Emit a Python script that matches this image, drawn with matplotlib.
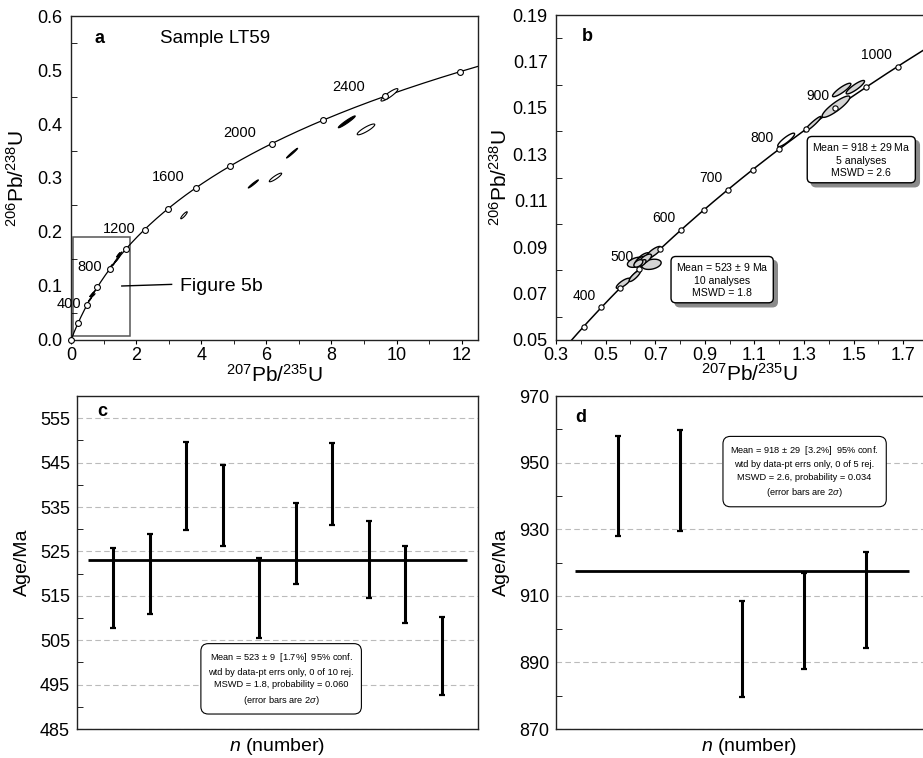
import numpy as np
import matplotlib
matplotlib.use("Agg")
import matplotlib.pyplot as plt
from matplotlib.patches import Rectangle, FancyBboxPatch
from matplotlib.transforms import IdentityTransform

plt.rcParams['font.family'] = ['Liberation Sans', 'DejaVu Sans']
plt.rcParams['mathtext.fontset'] = 'custom'
plt.rcParams['mathtext.rm'] = 'Liberation Sans'
plt.rcParams['mathtext.it'] = 'Liberation Sans:italic'

# =====================================================
# DADOS
# =====================================================
# constantes de decaimento (1/ano) para a concordia
L238 = 1.55125e-10
L235 = 9.8485e-10

# idades marcadas na concordia (Ma)
a_marcas = [0, 200, 400, 600, 800, 1000, 1200, 1400, 1600, 1800, 2000, 2200, 2400, 2600]
a_rotulos = [400, 800, 1200, 1600, 2000, 2400]
b_marcas = [350, 400, 450, 500, 550, 600, 650, 700, 750, 800, 850, 900, 950, 1000, 1050]
b_rotulos = [400, 500, 600, 700, 800, 900, 1000]

# elipses discordantes do painel a: x, y, meia-largura x, meia-altura y, rho, preenchida
a_elx = [3.47, 5.60, 6.28, 6.79, 8.47, 9.06, 9.78]
a_ely = [0.231, 0.289, 0.301, 0.346, 0.404, 0.390, 0.454]
a_elsx = [0.10, 0.155, 0.19, 0.17, 0.26, 0.27, 0.26]
a_elsy = [0.0065, 0.0075, 0.008, 0.009, 0.011, 0.010, 0.0115]
a_elrho = [0.90, 0.97, 0.90, 0.98, 0.96, 0.88, 0.90]
a_elcheia = [False, True, False, True, True, False, False]

# elipses concordantes (painel b), grupo ~523 Ma
b1_x = [0.571, 0.618, 0.685, 0.625, 0.655, 0.694, 0.640, 0.660, 0.648, 0.632]
b1_y = [0.0744, 0.0776, 0.0826, 0.0835, 0.0852, 0.0878, 0.0840, 0.0848, 0.0832, 0.0830]
b1_sx = [0.028, 0.023, 0.039, 0.037, 0.028, 0.030, 0.022, 0.025, 0.015, 0.018]
b1_sy = [0.0022, 0.0024, 0.0022, 0.0022, 0.0024, 0.0025, 0.0020, 0.0022, 0.0014, 0.0016]
b1_rho = [0.80, 0.85, 0.30, 0.40, 0.60, 0.80, 0.60, 0.70, 0.60, 0.50]
# grupo ~918 Ma
b2_x = [1.228, 1.335, 1.429, 1.452, 1.507]
b2_y = [0.1362, 0.1430, 0.1505, 0.1577, 0.1589]
b2_sx = [0.034, 0.034, 0.056, 0.037, 0.037]
b2_sy = [0.0029, 0.0033, 0.0046, 0.0029, 0.0029]
b2_rho = [0.88, 0.95, 0.88, 0.88, 0.88]
b2_cor = ['white', '#d4d4d4', '#d4d4d4', '#d4d4d4', '#d4d4d4']

# idades 206Pb/238U e erros 2 sigma (Ma)
c_idade = [516.7, 520.0, 539.8, 535.3, 514.6, 526.7, 540.2, 523.2, 517.6, 501.5]
c_erro = [9.0, 9.0, 9.9, 9.1, 9.0, 9.1, 9.2, 8.7, 8.7, 8.8]
c_media = 523
d_idade = [943.0, 944.7, 894.0, 902.4, 908.8]
d_erro = [15.0, 15.2, 14.5, 14.5, 14.5]
d_media = 917.5

c_texto = ("Mean = 523 $\\pm$ 9  [1.7%]  95% conf.\n"
           "wtd by data-pt errs only, 0 of 10 rej.\n"
           "MSWD = 1.8, probability = 0.060\n"
           "(error bars are 2$\\it{\\sigma}$)")
d_texto = ("Mean = 918 $\\pm$ 29  [3.2%]  95% conf.\n"
           "wtd by data-pt errs only, 0 of 5 rej.\n"
           "MSWD = 2.6, probability = 0.034\n"
           "(error bars are 2$\\it{\\sigma}$)")


# =====================================================
# FUNCOES AUXILIARES
# =====================================================
def concordia(idade_ma):
    t = np.asarray(idade_ma, dtype=float) * 1e6
    return np.exp(L235 * t) - 1, np.exp(L238 * t) - 1


def elipse(ax, cx, cy, sx, sy, rho, fc, lw=0.9, z=3):
    t = np.linspace(0, 2 * np.pi, 80)
    x = cx + sx * np.cos(t)
    y = cy + sy * (rho * np.cos(t) + np.sqrt(1 - rho ** 2) * np.sin(t))
    ax.fill(x, y, facecolor=fc, edgecolor='black', lw=lw, zorder=z)


caixas = []


def caixa_sombra(ax, x, y, texto):
    t = ax.text(x, y, texto, ha='center', va='center', fontsize=7.6, linespacing=1.3,
                bbox=dict(boxstyle='round,pad=0.45', fc='white', ec='black', lw=1), zorder=7)
    caixas.append((ax, t))


def sombras():
    # sombra cinza deslocada atras de cada caixa (em pixels)
    fig.canvas.draw()
    r = fig.canvas.get_renderer()
    for ax, t in caixas:
        bb = t.get_bbox_patch().get_window_extent(r)
        p = FancyBboxPatch((bb.x0 + 4, bb.y0 - 4), bb.width, bb.height,
                           boxstyle='round,pad=0,rounding_size=5', transform=IdentityTransform(),
                           fc='#8a8a8a', ec='#8a8a8a', zorder=6, clip_on=False)
        ax.add_artist(p)


def estilo(ax):
    for s in ax.spines.values():
        s.set_color('#222222')
        s.set_linewidth(1.0)


fig = plt.figure(figsize=(9.23, 7.58), dpi=100)
W, H = 923, 758


def eixo(esq, dir, topo, base):
    return fig.add_axes([esq / W, 1 - base / H, (dir - esq) / W, (base - topo) / H])


# =====================================================
# PAINEL a
# =====================================================
ax = eixo(71, 478, 16, 340)
estilo(ax)
cx, cy = concordia(np.linspace(0, 3000, 600))
ax.plot(cx, cy, color='black', lw=0.9, zorder=2)
mx, my = concordia(a_marcas)
ax.plot(mx, my, 'o', ms=4.2, mfc='white', mec='black', mew=0.8, zorder=5, clip_on=False)
desloc_a = [(-13, 1), (-15, 1.5), (-18, 0.5), (-20, 7.5), (-23.5, 7.5), (-26, 7)]
for idade, (dx, dy) in zip(a_rotulos, desloc_a):
    px, py = concordia(idade)
    ax.annotate(str(idade), xy=(px, py), xytext=(dx, dy), textcoords='offset points',
                ha='center', va='center', fontsize=10.5)
for i in range(len(a_elx)):
    elipse(ax, a_elx[i], a_ely[i], a_elsx[i], a_elsy[i], a_elrho[i],
           'black' if a_elcheia[i] else 'white', lw=0.8)
for i in range(len(b1_x)):
    elipse(ax, b1_x[i], b1_y[i], b1_sx[i] * 1.5, b1_sy[i] * 1.5, 0.95, 'black', lw=0.6)
for i in range(len(b2_x)):
    elipse(ax, b2_x[i], b2_y[i], b2_sx[i] * 1.5, b2_sy[i] * 1.5, 0.95, 'black', lw=0.6)
ax.add_patch(Rectangle((0.06, 0.008), 1.74, 0.182, fill=False, ec='#555555', lw=1.1, zorder=1))
ax.plot([1.56, 3.09], [0.100, 0.103], color='black', lw=1)
ax.text(3.35, 0.099, 'Figure 5b', fontsize=14, va='center', ha='left')
ax.text(0.071, 0.932, 'a', transform=ax.transAxes, fontsize=13, fontweight='bold', va='center', ha='center')
ax.text(0.219, 0.932, 'Sample LT59', transform=ax.transAxes, fontsize=13.5, va='center', ha='left')
ax.set_xlim(0, 12.5)
ax.set_ylim(0, 0.6)
ax.set_xticks(np.arange(0, 13, 2))
ax.set_xticks(np.arange(1, 13, 2), minor=True)
ax.set_yticks(np.arange(0, 0.61, 0.1))
ax.set_yticks(np.arange(0.05, 0.6, 0.1), minor=True)
ax.set_yticklabels(['%.1f' % v for v in np.arange(0, 0.61, 0.1)])
ax.tick_params(axis='x', which='both', direction='out', labelsize=13, pad=2)
ax.tick_params(axis='x', which='major', length=3)
ax.tick_params(axis='x', which='minor', length=3)
ax.tick_params(axis='y', which='both', direction='in', labelsize=13, pad=6)
ax.tick_params(axis='y', which='major', length=0)
ax.tick_params(axis='y', which='minor', length=4)
ax.set_xlabel('$^{207}$Pb/$^{235}$U', fontsize=15)
ax.set_ylabel('$^{206}$Pb/$^{238}$U', fontsize=15)
ax.xaxis.set_label_coords(0.5, -0.075)
ax.yaxis.set_label_coords(-0.105, 0.5)

# =====================================================
# PAINEL b
# =====================================================
ax = eixo(556, 928, 15, 340)
estilo(ax)
cx, cy = concordia(np.linspace(300, 1200, 400))
ax.plot(cx, cy, color='black', lw=1.1, zorder=2)
for i in range(len(b1_x)):
    elipse(ax, b1_x[i], b1_y[i], b1_sx[i], b1_sy[i], b1_rho[i], '#d4d4d4', lw=1.0)
for i in range(len(b2_x)):
    elipse(ax, b2_x[i], b2_y[i], b2_sx[i], b2_sy[i], b2_rho[i], b2_cor[i], lw=1.0)
mx, my = concordia(b_marcas)
ax.plot(mx, my, 'o', ms=3.8, mfc='white', mec='black', mew=0.8, zorder=5)
for idade in b_rotulos:
    px, py = concordia(idade)
    ax.annotate(str(idade), xy=(px, py), xytext=(-4, 8.5), textcoords='offset points',
                ha='right', va='center', fontsize=10)
caixa_sombra(ax, 1.531, 0.1277, 'Mean = 918 $\\pm$ 29 Ma\n5 analyses\nMSWD = 2.6')
caixa_sombra(ax, 0.970, 0.0760, 'Mean = 523 $\\pm$ 9 Ma\n10 analyses\nMSWD = 1.8')
ax.text(0.083, 0.933, 'b', transform=ax.transAxes, fontsize=13, fontweight='bold', va='center', ha='center')
ax.set_xlim(0.3, 1.8)
ax.set_ylim(0.05, 0.19)
ax.set_xticks(np.arange(0.3, 1.71, 0.2))
ax.set_xticklabels(['%.1f' % v for v in np.arange(0.3, 1.71, 0.2)])
ax.set_xticks(np.arange(0.4, 1.8, 0.2), minor=True)
ax.set_yticks(np.arange(0.05, 0.191, 0.02))
ax.set_yticklabels(['%.2f' % v for v in np.arange(0.05, 0.191, 0.02)])
ax.set_yticks(np.arange(0.06, 0.19, 0.02), minor=True)
ax.tick_params(axis='x', which='both', direction='out', labelsize=13, pad=2, length=3)
ax.tick_params(axis='y', which='both', direction='in', labelsize=13, pad=6)
ax.tick_params(axis='y', which='major', length=0)
ax.tick_params(axis='y', which='minor', length=4)
ax.set_xlabel('$^{207}$Pb/$^{235}$U', fontsize=15)
ax.set_ylabel('$^{206}$Pb/$^{238}$U', fontsize=15)
ax.xaxis.set_label_coords(0.52, -0.07)
ax.yaxis.set_label_coords(-0.122, 0.5)


# =====================================================
# PAINEIS c e d
# =====================================================
def painel_idades(ax, idades, erros, media, texto, tx, ty, letra, lx, ly):
    estilo(ax)
    n = np.arange(1, len(idades) + 1)
    ax.yaxis.grid(True, which='major', color='#bbbbbb', ls=(0, (5, 3)), lw=0.8)
    ax.set_axisbelow(True)
    ax.errorbar(n, idades, yerr=erros, fmt='none', ecolor='black', elinewidth=2.2,
                capsize=2, capthick=1.6, zorder=3)
    ax.hlines(media, 0.3, len(idades) + 0.7, color='black', lw=2, zorder=4)
    ax.text(tx, ty, texto, ha='center', va='center', fontsize=6.7, linespacing=1.5,
            bbox=dict(boxstyle='round,pad=0.8', fc='white', ec='black', lw=0.8), zorder=5)
    ax.text(lx, ly, letra, transform=ax.transAxes, fontsize=13, fontweight='bold',
            va='center', ha='center')
    ax.set_xlim(0, len(idades) + 1)
    ax.set_xticks([])
    ax.tick_params(axis='y', which='both', direction='in', labelsize=13, pad=5)
    ax.tick_params(axis='y', which='major', length=0)
    ax.tick_params(axis='y', which='minor', length=4)
    ax.set_ylabel('Age/Ma', fontsize=14)
    ax.set_xlabel('$\\it{n}$ (number)', fontsize=14)


ax = eixo(77, 478, 396, 729)
painel_idades(ax, c_idade, c_erro, c_media, c_texto, 5.6, 496.3, 'c', 0.062, 0.952)
ax.set_ylim(485, 560)
ax.set_yticks(np.arange(485, 556, 10))
ax.set_yticks(np.arange(490, 560, 10), minor=True)
ax.xaxis.set_label_coords(0.5, -0.02)
ax.yaxis.set_label_coords(-0.115, 0.5)

ax = eixo(556, 928, 396, 729)
painel_idades(ax, d_idade, d_erro, d_media, d_texto, 4.01, 947.3, 'd', 0.066, 0.936)
ax.set_ylim(870, 970)
ax.set_yticks(np.arange(870, 971, 20))
ax.set_yticks(np.arange(880, 970, 20), minor=True)
ax.xaxis.set_label_coords(0.52, -0.02)
ax.yaxis.set_label_coords(-0.124, 0.5)

sombras()
fig.savefig('out.png', dpi=100)
